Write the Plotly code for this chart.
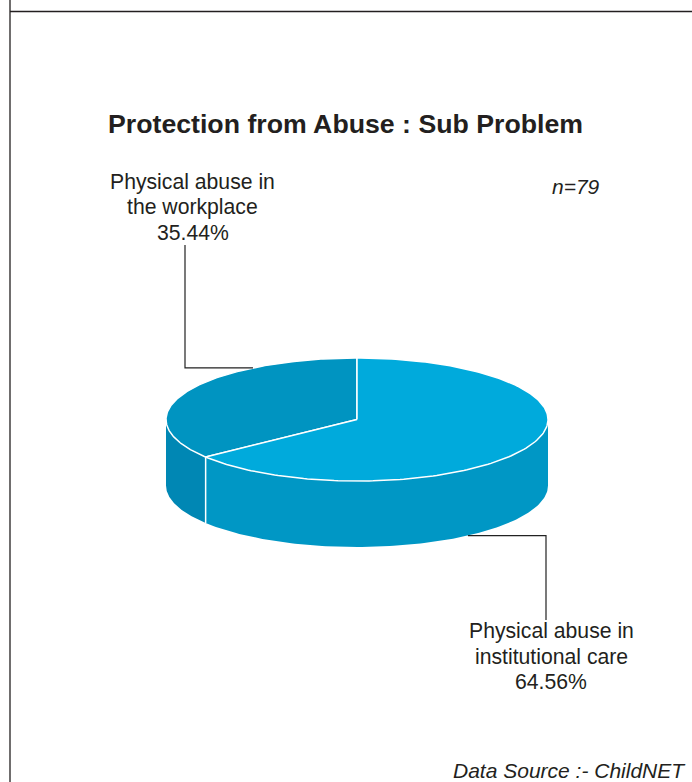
import numpy as np
import plotly.graph_objects as go

# ---- data ----
categories = ["Physical abuse in the workplace", "Physical abuse in institutional care"]
label_lines = [["Physical abuse in", "the workplace"], ["Physical abuse in", "institutional care"]]
values = [35.44, 64.56]
n_total = 79
title_text = "Protection from Abuse : Sub Problem"
source_text = "Data Source :- ChildNET"

# ---- geometry / style (pixel space) ----
W, H = 692, 782
CX, CY, RX, RY, DEPTH = 357, 419.5, 191, 61.5, 66
top_colors = ["#0094c1", "#00aadc"]
side_colors = ["#0087b4", "#0097c5"]
FONT = "Liberation Sans, Arial, sans-serif"


def ell(theta_deg, dy=0.0):
    t = np.radians(theta_deg)
    return CX - RX * np.sin(t), CY - RY * np.cos(t) + dy


fig = go.Figure()

total = sum(values)
bounds = np.concatenate([[0], np.cumsum(values) / total * 360.0])

# sides (visible front half: theta 90..270)
for i in range(len(values)):
    a0, a1 = max(bounds[i], 90), min(bounds[i + 1], 270)
    if a1 <= a0:
        continue
    th = np.linspace(a0, a1, 120)
    xt, yt = ell(th)
    xb, yb = ell(th[::-1], DEPTH)
    fig.add_trace(go.Scatter(x=np.concatenate([xt, xb, [xt[0]]]),
                             y=np.concatenate([yt, yb, [yt[0]]]),
                             fill="toself", fillcolor=side_colors[i], mode="lines",
                             line=dict(width=0), hoverinfo="skip"))
# side boundary lines
for b in bounds[1:-1]:
    if 90 < b < 270:
        x0, y0 = ell(b)
        x1, y1 = ell(b, DEPTH)
        fig.add_trace(go.Scatter(x=[x0, x1], y=[y0, y1], mode="lines",
                                 line=dict(color="white", width=1.5), hoverinfo="skip"))

# tops
for i in range(len(values)):
    th = np.linspace(bounds[i], bounds[i + 1], 200)
    xa, ya = ell(th)
    fig.add_trace(go.Scatter(x=np.concatenate([[CX], xa, [CX]]),
                             y=np.concatenate([[CY], ya, [CY]]),
                             fill="toself", fillcolor=top_colors[i], mode="lines",
                             line=dict(color="white", width=1.5), hoverinfo="skip"))

# leader lines
xe, ye = ell(33)
fig.add_trace(go.Scatter(x=[185, 185, xe], y=[245, ye, ye], mode="lines",
                         line=dict(color="#222222", width=1.2), hoverinfo="skip"))
xe2, ye2 = ell(215.5, DEPTH)
fig.add_trace(go.Scatter(x=[xe2, 546, 546], y=[ye2, ye2, 620], mode="lines",
                         line=dict(color="#222222", width=1.2), hoverinfo="skip"))

ann = []
label_pos = [(192.5, 182), (551, 631)]
for i, lines in enumerate(label_lines):
    x0, y0 = label_pos[i]
    texts = lines + [f"{values[i]:.2f}%"]
    for k, t in enumerate(texts):
        ann.append(dict(x=x0, y=y0 + 25 * k, xref="x", yref="y", text=t, showarrow=False,
                        xanchor="center", yanchor="middle",
                        font=dict(family=FONT, size=21.2, color="#231f20")))

ann.append(dict(x=345, y=124, xref="x", yref="y", text=f"<b>{title_text}</b>", showarrow=False,
                xanchor="center", yanchor="middle", font=dict(family=FONT, size=26.7, color="#231f20")))
ann.append(dict(x=576, y=186, xref="x", yref="y", text=f"<i>n={n_total}</i>", showarrow=False,
                xanchor="center", yanchor="middle", font=dict(family=FONT, size=21, color="#231f20")))
ann.append(dict(x=688, y=770, xref="x", yref="y", text=f"<i>{source_text}</i>", showarrow=False,
                xanchor="right", yanchor="middle", font=dict(family=FONT, size=21, color="#231f20")))

shapes = [
    dict(type="line", xref="x", yref="y", x0=10, x1=W, y0=11.5, y1=11.5,
         line=dict(color="#231f20", width=1.3)),
    dict(type="line", xref="x", yref="y", x0=10, x1=10, y0=0, y1=H,
         line=dict(color="#231f20", width=1.3)),
]

fig.update_layout(
    width=W, height=H, margin=dict(l=0, r=0, t=0, b=0),
    paper_bgcolor="white", plot_bgcolor="white", showlegend=False,
    xaxis=dict(range=[0, W], visible=False, fixedrange=True),
    yaxis=dict(range=[H, 0], visible=False, fixedrange=True),
    annotations=ann, shapes=shapes, hovermode=False,
)

fig.write_html("out.html", config={"displayModeBar": False},
               post_script="document.body.style.margin='0';document.body.style.overflow='hidden';")
